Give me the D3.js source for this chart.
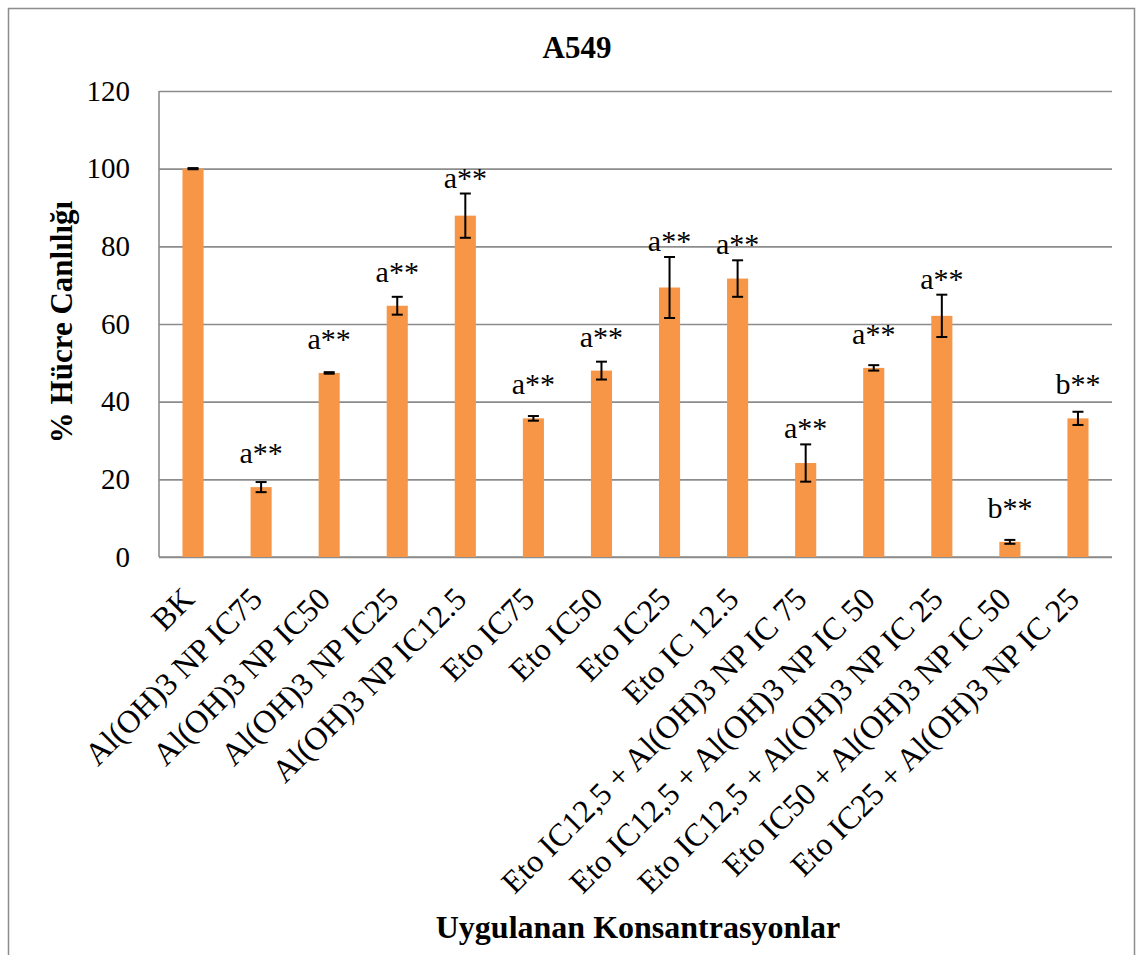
<!DOCTYPE html>
<html>
<head>
<meta charset="utf-8">
<script src="https://cdn.jsdelivr.net/npm/d3@7"></script>
<style>
  body { margin: 0; background: #fff; }
  svg { display: block; font-family: "Liberation Serif", "Times New Roman", serif; }
</style>
</head>
<body>
<svg id="chart"></svg>
<script>
// data
var categories = [
    "BK",
    "Al(OH)3 NP IC75",
    "Al(OH)3 NP IC50",
    "Al(OH)3 NP IC25",
    "Al(OH)3 NP IC12.5",
    "Eto IC75",
    "Eto IC50",
    "Eto IC25",
    "Eto IC 12.5",
    "Eto IC12,5 + Al(OH)3 NP IC 75",
    "Eto IC12,5 + Al(OH)3 NP IC 50",
    "Eto IC12,5 + Al(OH)3 NP IC 25",
    "Eto IC50 + Al(OH)3 NP IC 50",
    "Eto IC25 + Al(OH)3 NP IC 25"
];
var values = [100, 18.0, 47.4, 64.7, 87.9, 35.7, 48.0, 69.4, 71.7, 24.2, 48.7, 62.1, 3.9, 35.7];
var errors = [0.15, 1.3, 0.2, 2.3, 5.7, 0.6, 2.3, 7.85, 4.7, 4.8, 0.7, 5.45, 0.5, 1.7];
var sigLabels = ["", "a**", "a**", "a**", "a**", "a**", "a**", "a**", "a**", "a**", "a**", "a**", "b**", "b**"];
var yTicks = [0, 20, 40, 60, 80, 100, 120];

var width = 1145;
var height = 955;
var margin = {
    top: 91,
    right: 33,
    bottom: 398,
    left: 159
};
var innerWidth = width - margin.left - margin.right;
var innerHeight = height - margin.top - margin.bottom;

var svg = d3.select('#chart')
    .attr('width', width)
    .attr('height', height);

// outer chart border (bottom edge falls outside the picture)
svg.append('path')
    .attr('d', `M8.5,${height} V8.5 H1134.5 V${height}`)
    .attr('fill', 'none')
    .attr('stroke', '#8c8c8c')
    .attr('stroke-width', 1.5);

var g = svg.append('g')
    .attr('transform', `translate(${margin.left},${margin.top})`);

var x = d3.scaleBand()
    .domain(categories)
    .range([0, innerWidth])
    .paddingInner(0.69)
    .paddingOuter(0.345);

var y = d3.scaleLinear()
    .domain([0, 120])
    .range([innerHeight, 0]);

// gridlines + tick labels
var yAxis = g.append('g')
    .call(d3.axisLeft(y).tickValues(yTicks).tickSize(-innerWidth).tickPadding(29));
yAxis.attr('font-family', '"Liberation Serif", serif');
yAxis.select('.domain').remove();
yAxis.selectAll('line')
    .attr('stroke', '#8c8c8c')
    .attr('stroke-width', 1.6);
yAxis.selectAll('text')
    .attr('font-size', 29)
    .attr('fill', '#000');

// axis lines
g.append('line')
    .attr('x1', 0).attr('x2', 0)
    .attr('y1', 0).attr('y2', innerHeight)
    .attr('stroke', '#8c8c8c')
    .attr('stroke-width', 1.6);
g.append('line')
    .attr('x1', 0).attr('x2', innerWidth)
    .attr('y1', innerHeight).attr('y2', innerHeight)
    .attr('stroke', '#8c8c8c')
    .attr('stroke-width', 1.6);

var rows = categories.map((c, i) => ({
    name: c,
    value: values[i],
    err: errors[i],
    label: sigLabels[i]
}));

// bars
g.selectAll('rect.bar').data(rows)
    .enter().append('rect')
    .attr('class', 'bar')
    .attr('x', d => x(d.name))
    .attr('y', d => y(d.value))
    .attr('width', x.bandwidth())
    .attr('height', d => innerHeight - y(d.value))
    .attr('fill', '#F79646');

// error bars
var cap = 5.5;
var eb = g.selectAll('g.err').data(rows)
    .enter().append('g')
    .attr('class', 'err')
    .attr('stroke', '#000')
    .attr('stroke-width', 2);
eb.append('line')
    .attr('x1', d => x(d.name) + x.bandwidth() / 2)
    .attr('x2', d => x(d.name) + x.bandwidth() / 2)
    .attr('y1', d => y(d.value + d.err))
    .attr('y2', d => y(d.value - d.err));
eb.append('line')
    .attr('x1', d => x(d.name) + x.bandwidth() / 2 - cap)
    .attr('x2', d => x(d.name) + x.bandwidth() / 2 + cap)
    .attr('y1', d => y(d.value + d.err))
    .attr('y2', d => y(d.value + d.err));
eb.append('line')
    .attr('x1', d => x(d.name) + x.bandwidth() / 2 - cap)
    .attr('x2', d => x(d.name) + x.bandwidth() / 2 + cap)
    .attr('y1', d => y(d.value - d.err))
    .attr('y2', d => y(d.value - d.err));

// significance letters
g.selectAll('text.sig').data(rows.filter(d => d.label))
    .enter().append('text')
    .attr('class', 'sig')
    .attr('x', d => x(d.name) + x.bandwidth() / 2)
    .attr('y', d => Math.min(y(d.value + d.err) - 6, y(d.value) - 24))
    .attr('text-anchor', 'middle')
    .attr('font-size', 30)
    .text(d => d.label);

// rotated category labels
g.selectAll('text.cat').data(rows)
    .enter().append('text')
    .attr('class', 'cat')
    .attr('transform', d => `translate(${x(d.name) + x.bandwidth() / 2 + 3},${innerHeight + 44}) rotate(-45)`)
    .attr('text-anchor', 'end')
    .attr('font-size', 32)
    .text(d => d.name);

// titles
svg.append('text')
    .attr('x', 577)
    .attr('y', 58)
    .attr('text-anchor', 'middle')
    .attr('font-size', 31)
    .attr('font-weight', 'bold')
    .text('A549');

svg.append('text')
    .attr('transform', 'translate(72,322) rotate(-90)')
    .attr('text-anchor', 'middle')
    .attr('font-size', 31)
    .attr('font-weight', 'bold')
    .text('% Hücre Canlılığı');

svg.append('text')
    .attr('x', 638)
    .attr('y', 938)
    .attr('text-anchor', 'middle')
    .attr('font-size', 32)
    .attr('font-weight', 'bold')
    .text('Uygulanan Konsantrasyonlar');
</script>
</body>
</html>
